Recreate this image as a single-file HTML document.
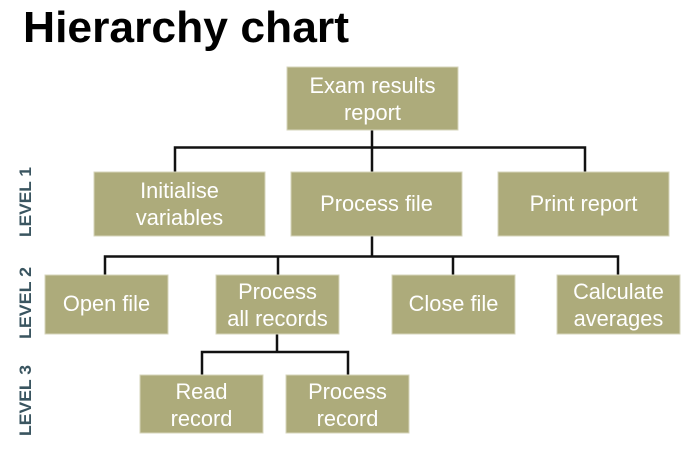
<!DOCTYPE html>
<html><head><meta charset="utf-8"><style>
html,body{margin:0;padding:0;background:#fff;}
svg{display:block;}
text{font-family:"Liberation Sans",Arial,sans-serif;}
</style></head><body>
<svg width="696" height="461" viewBox="0 0 696 461" xmlns="http://www.w3.org/2000/svg">
<text x="23" y="42" font-size="44" font-weight="bold" fill="#000" textLength="326" lengthAdjust="spacingAndGlyphs">Hierarchy chart</text>
<g fill="#3a5560" font-weight="bold" font-size="17">
<text transform="translate(31,237) rotate(-90)" textLength="70" lengthAdjust="spacingAndGlyphs">LEVEL 1</text>
<text transform="translate(31,339) rotate(-90)" textLength="72" lengthAdjust="spacingAndGlyphs">LEVEL 2</text>
<text transform="translate(31,436) rotate(-90)" textLength="71" lengthAdjust="spacingAndGlyphs">LEVEL 3</text>
</g>
<g stroke="#111" stroke-width="2.5" fill="none">
<path d="M372 130 V172 M175 172 V147.5 H585 V172"/>
<path d="M372 236 V256.5 M105 275 V256.5 H618 V275 M278 256.5 V275 M453 256.5 V275"/>
<path d="M277 334 V352 M202 375 V352 H348 V375"/>
</g>
<g fill="#adab7b" stroke="#d6d4bb" stroke-width="1">
<rect x="287" y="67" width="171" height="63"/>
<rect x="94" y="172" width="171" height="64"/>
<rect x="291" y="172" width="171" height="64"/>
<rect x="498" y="172" width="171" height="64"/>
<rect x="45" y="275" width="123" height="59"/>
<rect x="216" y="275" width="123" height="59"/>
<rect x="392" y="275" width="123" height="59"/>
<rect x="557" y="275" width="123" height="59"/>
<rect x="140" y="375" width="123" height="58"/>
<rect x="286" y="375" width="123" height="58"/>
</g>
<g fill="#fff" font-size="21.8" text-anchor="middle">
<text x="372.5" y="93">Exam results</text><text x="372.5" y="120">report</text>
<text x="179.5" y="198">Initialise</text><text x="179.5" y="225">variables</text>
<text x="376.5" y="211">Process file</text>
<text x="583.5" y="211">Print report</text>
<text x="106.5" y="311">Open file</text>
<text x="277.5" y="299">Process</text><text x="277.5" y="326">all records</text>
<text x="453.5" y="311">Close file</text>
<text x="618.5" y="299">Calculate</text><text x="618.5" y="326">averages</text>
<text x="201.5" y="399">Read</text><text x="201.5" y="426">record</text>
<text x="347.5" y="399">Process</text><text x="347.5" y="426">record</text>
</g>
</svg>
</body></html>
